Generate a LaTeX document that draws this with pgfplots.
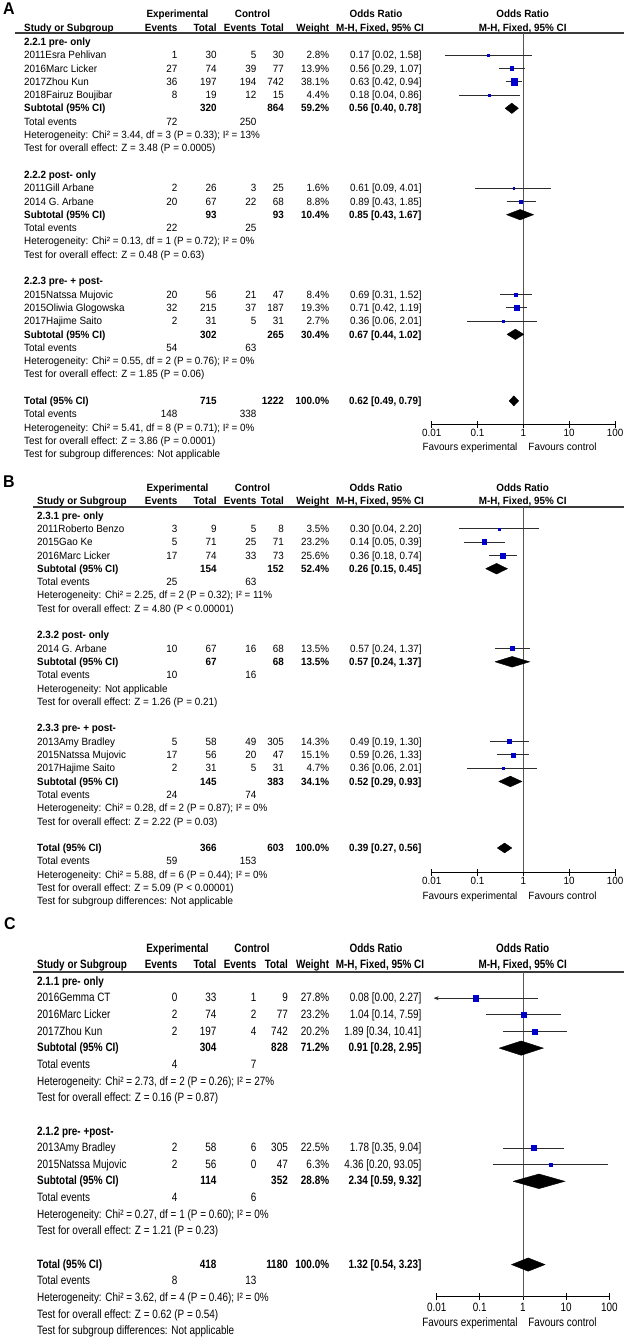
\documentclass[border=0pt]{standalone}
\usepackage{fontspec}
\setmainfont[FakeStretch=0.94]{Liberation Sans}
\newfontfamily\Cfont[FakeStretch=0.82]{Liberation Sans}
\usepackage{pgfplots}
\pgfplotsset{compat=1.18}
\usetikzlibrary{arrows.meta}
\definecolor{rmblue}{RGB}{0,0,204}
\definecolor{ciline}{RGB}{45,45,45}
\definecolor{vline}{RGB}{85,85,85}
\definecolor{hdrline}{RGB}{60,60,60}
\newcommand\fa{\fontsize{10.5}{12.6}\selectfont}
\newcommand\fc{\Cfont\fontsize{12.1}{14.5}\selectfont}
\newcommand\fl{\fontsize{17}{20}\selectfont\bfseries}
\def\XL{24}\def\TC{284}
\newcommand\studyrow[8]{%
 \node[L] at (\XL,#1) {#2};
 \node[R] at (177.5,#1) {#3};
 \node[R] at (216.7,#1) {#4};
 \node[R] at (256.5,#1) {#5};
 \node[R] at (\TC,#1) {#6};
 \node[R] at (329.3,#1) {#7\%};
 \node[R] at (421.7,#1) {#8};}
\newcommand\subrow[6]{%
 \node[L] at (\XL,#1) {\bfseries #2};
 \node[R] at (216.7,#1) {\bfseries #3};
 \node[R] at (\TC,#1) {\bfseries #4};
 \node[R] at (329.3,#1) {\bfseries #5\%};
 \node[R] at (421.7,#1) {\bfseries #6};}
\newcommand\evrow[3]{%
 \node[L] at (\XL,#1) {Total events};
 \node[R] at (177.5,#1) {#2};
 \node[R] at (256.5,#1) {#3};}
\newcommand\txt[2]{\node[L] at (\XL,#1) {#2};}
\newcommand\grp[2]{\node[L] at (\XL,#1) {\bfseries #2};}
% forest-plot helpers (inside axis)
\newcommand\st[5]{%
 \addplot[color=ciline, line width=0.8pt, no markers] coordinates {(#3,#1) (#4,#1)};
 \addplot[only marks, mark=square*, color=rmblue, mark size={0.5*sqrt(#5)}] coordinates {(#2,#1)};}
\newcommand\dm[6]{%
 \addplot[fill=black, draw=black, line width=0.4pt, no markers] coordinates {(#5,#1) (#4,#2) (#6,#1) (#4,#3) (#5,#1)};}
\pgfplotsset{
 forestaxis/.style={scale only axis, anchor=south west, xmin=0.01, xmax=100,
  axis x line=bottom, axis y line=none,
  x axis line style={-, line width=1pt, black},
  xtick={0.01,0.1,1,10,100}, xticklabels={0.01,0.1,1,10,100},
  xminorticks=false, tick align=center, major tick length=7pt,
  tick style={line width=1pt, black}, clip=false,
  xticklabel style={inner sep=0pt, anchor=north}}
}
\begin{document}
\begin{tikzpicture}[x=1pt,y=1pt,
  L/.style={anchor=mid west,inner sep=0pt},
  R/.style={anchor=mid east,inner sep=0pt},
  M/.style={anchor=mid,inner sep=0pt},
  every node/.append style={font=\fa}]
\useasboundingbox (0,0) rectangle (624,-1339);

%================ PANEL A ================
\node[M,font=\fl] at (9,-12) {A};
\node[M] at (177.5,-15) {\bfseries Experimental};
\node[M] at (252.5,-15) {\bfseries Control};
\node[M] at (376,-15) {\bfseries Odds Ratio};
\node[M] at (522.7,-15) {\bfseries Odds Ratio};
\node[L] at (24,-28.5) {\bfseries Study or Subgroup};
\node[R] at (177.5,-28.5) {\bfseries Events};
\node[R] at (216.7,-28.5) {\bfseries Total};
\node[R] at (256.5,-28.5) {\bfseries Events};
\node[R] at (284,-28.5) {\bfseries Total};
\node[R] at (329.3,-28.5) {\bfseries Weight};
\node[M] at (380,-28.5) {\bfseries M-H, Fixed, 95\% CI};
\node[M] at (522.7,-28.5) {\bfseries M-H, Fixed, 95\% CI};
\draw[hdrline, line width=1.5pt] (15,-33) -- (624,-33);
\begin{scope}[yshift=-42.8pt, y=-13.3pt]
\def\XL{24}\def\TC{284}
\grp{0}{2.2.1 pre- only}
\studyrow{1}{2011Esra Pehlivan}{1}{30}{5}{30}{2.8}{0.17 [0.02, 1.58]}
\studyrow{2}{2016Marc Licker}{27}{74}{39}{77}{13.9}{0.56 [0.29, 1.07]}
\studyrow{3}{2017Zhou Kun}{36}{197}{194}{742}{38.1}{0.63 [0.42, 0.94]}
\studyrow{4}{2018Fairuz Boujibar}{8}{19}{12}{15}{4.4}{0.18 [0.04, 0.86]}
\subrow{5}{Subtotal (95\% CI)}{320}{864}{59.2}{0.56 [0.40, 0.78]}
\evrow{6}{72}{250}
\txt{7}{Heterogeneity: Chi² = 3.44, df = 3 (P = 0.33); I² = 13\%}
\txt{8}{Test for overall effect: Z = 3.48 (P = 0.0005)}
\grp{10}{2.2.2 post- only}
\studyrow{11}{2011Gill Arbane}{2}{26}{3}{25}{1.6}{0.61 [0.09, 4.01]}
\studyrow{12}{2014 G. Arbane}{20}{67}{22}{68}{8.8}{0.89 [0.43, 1.85]}
\subrow{13}{Subtotal (95\% CI)}{93}{93}{10.4}{0.85 [0.43, 1.67]}
\evrow{14}{22}{25}
\txt{15}{Heterogeneity: Chi² = 0.13, df = 1 (P = 0.72); I² = 0\%}
\txt{16}{Test for overall effect: Z = 0.48 (P = 0.63)}
\grp{18}{2.2.3 pre- + post-}
\studyrow{19}{2015Natssa Mujovic}{20}{56}{21}{47}{8.4}{0.69 [0.31, 1.52]}
\studyrow{20}{2015Oliwia Glogowska}{32}{215}{37}{187}{19.3}{0.71 [0.42, 1.19]}
\studyrow{21}{2017Hajime Saito}{2}{31}{5}{31}{2.7}{0.36 [0.06, 2.01]}
\subrow{22}{Subtotal (95\% CI)}{302}{265}{30.4}{0.67 [0.44, 1.02]}
\evrow{23}{54}{63}
\txt{24}{Heterogeneity: Chi² = 0.55, df = 2 (P = 0.76); I² = 0\%}
\txt{25}{Test for overall effect: Z = 1.85 (P = 0.06)}
\subrow{27}{Total (95\% CI)}{715}{1222}{100.0}{0.62 [0.49, 0.79]}
\evrow{28}{148}{338}
\txt{29}{Heterogeneity: Chi² = 5.41, df = 8 (P = 0.71); I² = 0\%}
\txt{30}{Test for overall effect: Z = 3.86 (P = 0.0001)}
\txt{31}{Test for subgroup differences: Not applicable}
\end{scope}
\node[M] at (470,-447.5) {Favours experimental};
\node[M] at (562.5,-447.5) {Favours control};
\begin{axis}[xmode=log, forestaxis, at={(431.7pt,-424pt)}, width=183.3pt, height=391pt,
  ymin=-28.74, ymax=0.662, xticklabel style={font=\fa, yshift=-1.2pt}]
\addplot[color=vline, line width=1pt, no markers] coordinates {(1,0.662) (1,-28.74)};
\st{-1}{0.17}{0.02}{1.58}{2.8}
\st{-2}{0.56}{0.29}{1.07}{13.9}
\st{-3}{0.63}{0.42}{0.94}{38.1}
\st{-4}{0.18}{0.04}{0.86}{4.4}
\dm{-5}{-4.61}{-5.39}{0.56}{0.40}{0.78}
\st{-11}{0.61}{0.09}{4.01}{1.6}
\st{-12}{0.89}{0.43}{1.85}{8.8}
\dm{-13}{-12.61}{-13.39}{0.85}{0.43}{1.67}
\st{-19}{0.69}{0.31}{1.52}{8.4}
\st{-20}{0.71}{0.42}{1.19}{19.3}
\st{-21}{0.36}{0.06}{2.01}{2.7}
\dm{-22}{-21.61}{-22.39}{0.67}{0.44}{1.02}
\dm{-27}{-26.62}{-27.38}{0.62}{0.49}{0.79}
\end{axis}

%================ PANEL B ================
\node[M,font=\fl] at (9,-485) {B};
\node[M] at (177.5,-489.3) {\bfseries Experimental};
\node[M] at (252.5,-489.3) {\bfseries Control};
\node[M] at (376,-489.3) {\bfseries Odds Ratio};
\node[M] at (522.7,-489.3) {\bfseries Odds Ratio};
\node[L] at (37,-502.3) {\bfseries Study or Subgroup};
\node[R] at (177.5,-502.3) {\bfseries Events};
\node[R] at (216.7,-502.3) {\bfseries Total};
\node[R] at (256.5,-502.3) {\bfseries Events};
\node[R] at (284,-502.3) {\bfseries Total};
\node[R] at (329.3,-502.3) {\bfseries Weight};
\node[M] at (380,-502.3) {\bfseries M-H, Fixed, 95\% CI};
\node[M] at (522.7,-502.3) {\bfseries M-H, Fixed, 95\% CI};
\draw[hdrline, line width=1.5pt] (33,-507) -- (624,-507);
\begin{scope}[yshift=-516.5pt, y=-13.3pt]
\def\XL{37}\def\TC{284}
\grp{0}{2.3.1 pre- only}
\studyrow{1}{2011Roberto Benzo}{3}{9}{5}{8}{3.5}{0.30 [0.04, 2.20]}
\studyrow{2}{2015Gao Ke}{5}{71}{25}{71}{23.2}{0.14 [0.05, 0.39]}
\studyrow{3}{2016Marc Licker}{17}{74}{33}{73}{25.6}{0.36 [0.18, 0.74]}
\subrow{4}{Subtotal (95\% CI)}{154}{152}{52.4}{0.26 [0.15, 0.45]}
\evrow{5}{25}{63}
\txt{6}{Heterogeneity: Chi² = 2.25, df = 2 (P = 0.32); I² = 11\%}
\txt{7}{Test for overall effect: Z = 4.80 (P < 0.00001)}
\grp{9}{2.3.2 post- only}
\studyrow{10}{2014 G. Arbane}{10}{67}{16}{68}{13.5}{0.57 [0.24, 1.37]}
\subrow{11}{Subtotal (95\% CI)}{67}{68}{13.5}{0.57 [0.24, 1.37]}
\evrow{12}{10}{16}
\txt{13}{Heterogeneity: Not applicable}
\txt{14}{Test for overall effect: Z = 1.26 (P = 0.21)}
\grp{16}{2.3.3 pre- + post-}
\studyrow{17}{2013Amy Bradley}{5}{58}{49}{305}{14.3}{0.49 [0.19, 1.30]}
\studyrow{18}{2015Natssa Mujovic}{17}{56}{20}{47}{15.1}{0.59 [0.26, 1.33]}
\studyrow{19}{2017Hajime Saito}{2}{31}{5}{31}{4.7}{0.36 [0.06, 2.01]}
\subrow{20}{Subtotal (95\% CI)}{145}{383}{34.1}{0.52 [0.29, 0.93]}
\evrow{21}{24}{74}
\txt{22}{Heterogeneity: Chi² = 0.28, df = 2 (P = 0.87); I² = 0\%}
\txt{23}{Test for overall effect: Z = 2.22 (P = 0.03)}
\subrow{25}{Total (95\% CI)}{366}{603}{100.0}{0.39 [0.27, 0.56]}
\evrow{26}{59}{153}
\txt{27}{Heterogeneity: Chi² = 5.88, df = 6 (P = 0.44); I² = 0\%}
\txt{28}{Test for overall effect: Z = 5.09 (P < 0.00001)}
\txt{29}{Test for subgroup differences: Not applicable}
\end{scope}
\node[M] at (470,-896.5) {Favours experimental};
\node[M] at (562.5,-896.5) {Favours control};
\begin{axis}[xmode=log, forestaxis, at={(431.7pt,-872.3pt)}, width=183.3pt, height=365.3pt,
  ymin=-26.83, ymax=0.639, xticklabel style={font=\fa, yshift=-1.5pt}]
\addplot[color=vline, line width=1pt, no markers] coordinates {(1,0.639) (1,-26.83)};
\st{-1}{0.30}{0.04}{2.20}{3.5}
\st{-2}{0.14}{0.05}{0.39}{23.2}
\st{-3}{0.36}{0.18}{0.74}{25.6}
\dm{-4}{-3.6}{-4.4}{0.26}{0.15}{0.45}
\st{-10}{0.57}{0.24}{1.37}{13.5}
\dm{-11}{-10.6}{-11.4}{0.57}{0.24}{1.37}
\st{-17}{0.49}{0.19}{1.30}{14.3}
\st{-18}{0.59}{0.26}{1.33}{15.1}
\st{-19}{0.36}{0.06}{2.01}{4.7}
\dm{-20}{-19.6}{-20.4}{0.52}{0.29}{0.93}
\dm{-25}{-24.63}{-25.37}{0.39}{0.27}{0.56}
\end{axis}

%================ PANEL C ================
\begin{scope}[every node/.append style={font=\fc}]
\node[M,font=\fl] at (10,-927) {C};
\node[M] at (177.5,-950) {\bfseries Experimental};
\node[M] at (252,-950) {\bfseries Control};
\node[M] at (376,-950) {\bfseries Odds Ratio};
\node[M] at (522.7,-950) {\bfseries Odds Ratio};
\node[L] at (37,-966) {\bfseries Study or Subgroup};
\node[R] at (177.5,-966) {\bfseries Events};
\node[R] at (216.7,-966) {\bfseries Total};
\node[R] at (256.5,-966) {\bfseries Events};
\node[R] at (288,-966) {\bfseries Total};
\node[R] at (329.3,-966) {\bfseries Weight};
\node[M] at (380,-966) {\bfseries M-H, Fixed, 95\% CI};
\node[M] at (522.7,-966) {\bfseries M-H, Fixed, 95\% CI};
\draw[hdrline, line width=1.5pt] (33,-972) -- (624,-972);
\begin{scope}[yshift=-982.5pt, y=-16.65pt]
\def\XL{37}\def\TC{288}
\grp{0}{2.1.1 pre- only}
\studyrow{1}{2016Gemma CT}{0}{33}{1}{9}{27.8}{0.08 [0.00, 2.27]}
\studyrow{2}{2016Marc Licker}{2}{74}{2}{77}{23.2}{1.04 [0.14, 7.59]}
\studyrow{3}{2017Zhou Kun}{2}{197}{4}{742}{20.2}{1.89 [0.34, 10.41]}
\subrow{4}{Subtotal (95\% CI)}{304}{828}{71.2}{0.91 [0.28, 2.95]}
\evrow{5}{4}{7}
\txt{6}{Heterogeneity: Chi² = 2.73, df = 2 (P = 0.26); I² = 27\%}
\txt{7}{Test for overall effect: Z = 0.16 (P = 0.87)}
\grp{9}{2.1.2 pre- +post-}
\studyrow{10}{2013Amy Bradley}{2}{58}{6}{305}{22.5}{1.78 [0.35, 9.04]}
\studyrow{11}{2015Natssa Mujovic}{2}{56}{0}{47}{6.3}{4.36 [0.20, 93.05]}
\subrow{12}{Subtotal (95\% CI)}{114}{352}{28.8}{2.34 [0.59, 9.32]}
\evrow{13}{4}{6}
\txt{14}{Heterogeneity: Chi² = 0.27, df = 1 (P = 0.60); I² = 0\%}
\txt{15}{Test for overall effect: Z = 1.21 (P = 0.23)}
\subrow{17}{Total (95\% CI)}{418}{1180}{100.0}{1.32 [0.54, 3.23]}
\evrow{18}{8}{13}
\txt{19}{Heterogeneity: Chi² = 3.62, df = 4 (P = 0.46); I² = 0\%}
\txt{20}{Test for overall effect: Z = 0.62 (P = 0.54)}
\txt{21}{Test for subgroup differences: Not applicable}
\end{scope}
\node[M] at (470,-1324) {Favours experimental};
\node[M] at (562.5,-1324) {Favours control};
\end{scope}
\begin{axis}[xmode=log, forestaxis, at={(436.7pt,-1296.7pt)}, width=172.6pt, height=324.7pt,
  ymin=-18.93, ymax=0.571, xticklabel style={font=\fc, yshift=-2.5pt}]
\addplot[color=vline, line width=1pt, no markers] coordinates {(1,0.571) (1,-18.93)};
\addplot[color=ciline, line width=0.8pt, no markers, {Stealth[length=5pt,width=4pt]}-] coordinates {(0.0085,-1) (2.27,-1)};
\addplot[only marks, mark=square*, color=rmblue, mark size={0.5*sqrt(27.8)}] coordinates {(0.08,-1)};
\st{-2}{1.04}{0.14}{7.59}{23.2}
\st{-3}{1.89}{0.34}{10.41}{20.2}
\dm{-4}{-3.57}{-4.43}{0.91}{0.28}{2.95}
\st{-10}{1.78}{0.35}{9.04}{22.5}
\st{-11}{4.36}{0.20}{93.05}{6.3}
\dm{-12}{-11.56}{-12.44}{2.34}{0.59}{9.32}
\dm{-17}{-16.6}{-17.4}{1.32}{0.54}{3.23}
\end{axis}
\end{tikzpicture}
\end{document}
